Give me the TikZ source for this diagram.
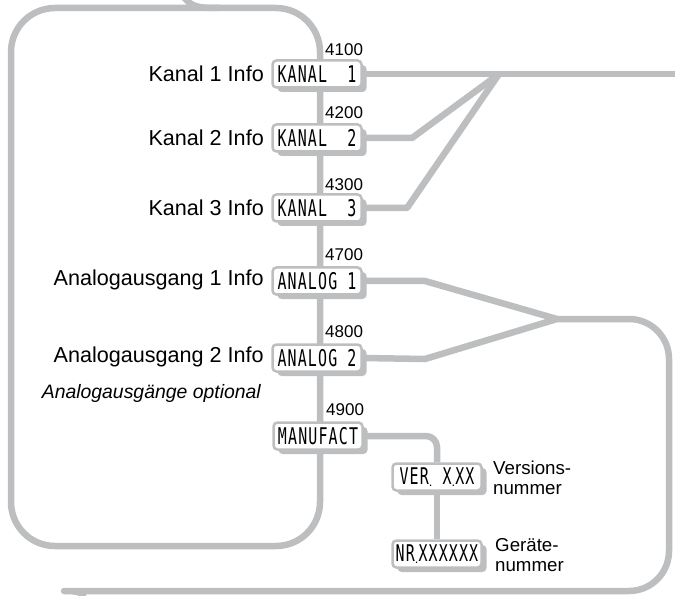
\documentclass[tikz,border=0pt]{standalone}
\usepackage{fontspec}
\setmainfont{Liberation Sans}
\newfontfamily\lcdfont[FakeStretch=0.65,LetterSpace=5]{DejaVu Sans Mono}
\usetikzlibrary{shadows}
\definecolor{lg}{RGB}{188,190,192}
\newcommand\lcddot{{\normalfont\fontsize{13}{13}\selectfont\raisebox{-1.5pt}{.}}}
\pgfdeclarelayer{bg}
\pgfsetlayers{bg,main}
\begin{document}
\begin{tikzpicture}[x=1pt,y=-1pt,
  conn/.style={draw=lg, line width=6.5pt, line join=round},
  lcdbox/.style={draw=lg, line width=2.5pt, fill=white, rounded corners=4pt,
    minimum width=89pt, minimum height=27pt, inner sep=0pt,
    font=\lcdfont\fontsize{23}{23}\selectfont,
    drop shadow={shadow xshift=5pt, shadow yshift=-4.5pt, fill=lg, opacity=1}},
  lbl/.style={font=\fontsize{21.6}{24}\selectfont, anchor=east, inner sep=0pt},
  num/.style={font=\fontsize{17}{18}\selectfont, anchor=west, inner sep=0pt},
  note/.style={font=\fontsize{18.7}{20}\selectfont, anchor=west, align=left, inner sep=0pt}
]
\useasboundingbox (0,0) rectangle (675,596);

% LCD displays
\node[lcdbox] (k1) at (317,74) {KANAL\ \ 1};
\node[lcdbox] (k2) at (317,138) {KANAL\ \ 2};
\node[lcdbox] (k3) at (317,208) {KANAL\ \ 3};
\node[lcdbox] (a1) at (317,281) {ANALOG 1};
\node[lcdbox] (a2) at (317,358) {ANALOG 2};
\node[lcdbox] (mf) at (318,436) {MANUFACT};
\node[lcdbox] (ver) at (437,477) {VER\lcddot\ X\lcddot XX};
\node[lcdbox] (nr) at (437,554) {NR\lcddot XXXXXX};

% labels
\node[lbl] (lk1) at (264,74) {Kanal 1 Info};
\node[lbl] (lk2) at (264,138) {Kanal 2 Info};
\node[lbl] (lk3) at (264,208) {Kanal 3 Info};
\node[lbl] (la1) at (264,280) {Analogausgang 1 Info};
\node[lbl] (la2) at (264,357) {Analogausgang 2 Info};
\node[lbl, font=\fontsize{19.4}{22}\selectfont\itshape] (lopt) at (261,393) {Analogausgänge optional};
\node[note] (lver) at (493,478) {Versions-\\nummer};
\node[note] (lnr) at (495,555) {Geräte-\\nummer};

% numbers
\node[num] (n41) at (325,50) {4100};
\node[num] (n42) at (325,113) {4200};
\node[num] (n43) at (325,185) {4300};
\node[num] (n47) at (325,255) {4700};
\node[num] (n48) at (325,332) {4800};
\node[num] (n49) at (326,410) {4900};

% coordinates
\coordinate (jk) at (499,74);
\coordinate (kout) at (678,74);
\coordinate (k2b) at (412,138);
\coordinate (k3b) at (407,208);
\coordinate (ja) at (557,319);
\coordinate (a1b) at (425,281);
\coordinate (a2b) at (425,359);
\coordinate (mfb) at (437,436);
\coordinate (rtr) at (669,319);
\coordinate (rbr) at (669,591);
\coordinate (rbl) at (104,591);
\coordinate (rout) at (78,606);
\coordinate (ein) at (182,-6);
\coordinate (emrg) at (220,8);
\coordinate (smid) at (150,8);
\coordinate (str) at (320,8);
\coordinate (sbr) at (320,546);
\coordinate (sbl) at (11,546);
\coordinate (stl) at (11,8);

\begin{pgfonlayer}{bg}
  % entry from above and main spine loop
  \draw[conn] (ein) .. controls (190,8) and (200,8) .. (emrg);
  \draw[conn, rounded corners=44pt] (smid) -- (str) -- (sbr) -- (sbl) -- (stl) -- (smid);
  % channel branches
  \draw[conn] (k1.east) -- (kout);
  \draw[conn] (k2.east) -- (k2b) -- (jk);
  \draw[conn] (k3.east) -- (k3b) -- (jk);
  % analog branches and return loop
  \draw[conn] (a1.east) -- (a1b) -- (ja);
  \draw[conn] (a2.east) -- (a2b) -- (ja);
  \draw[conn, rounded corners=40pt] (ja) -- (rtr) -- (rbr) -- (rbl)
     .. controls (90,591) and (84,597) .. (rout);
  % manufacturer submenu
  \draw[conn, rounded corners=11pt] (mf.east) -- (mfb) -- (ver.north);
  \draw[conn] (ver.south) -- (nr.north);
\end{pgfonlayer}
\end{tikzpicture}
\end{document}
